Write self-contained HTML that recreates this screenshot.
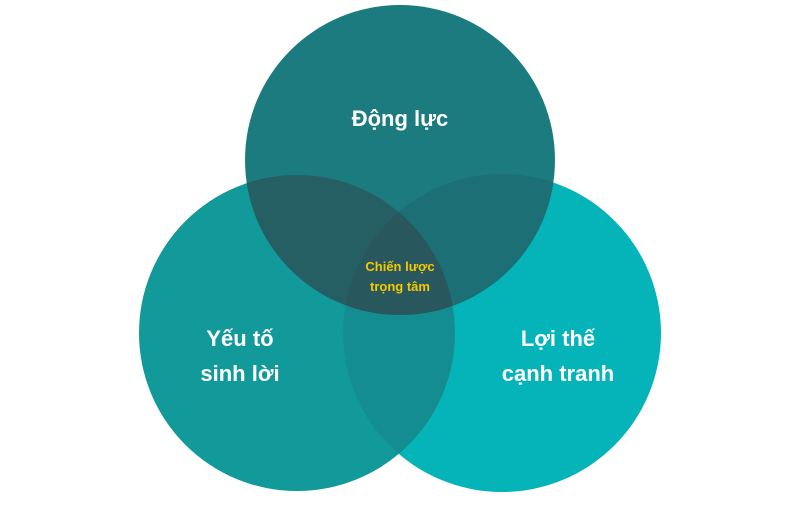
<!DOCTYPE html>
<html><head><meta charset="utf-8"><style>
body{margin:0;background:#fff;width:800px;height:500px;overflow:hidden}
text{font-family:"Liberation Sans","DejaVu Sans",sans-serif;font-weight:bold;text-anchor:middle}
</style></head><body>
<svg width="800" height="500" viewBox="0 0 800 500">
<defs>
<clipPath id="L"><circle cx="297" cy="333" r="158"/></clipPath>
<clipPath id="R"><circle cx="502" cy="333" r="159"/></clipPath>
<clipPath id="T"><circle cx="400" cy="160" r="155"/></clipPath>
</defs>
<circle cx="297" cy="333" r="158" fill="#12999a"/>
<circle cx="502" cy="333" r="159" fill="#05b4b9"/>
<circle cx="502" cy="333" r="159" fill="#148d90" clip-path="url(#L)"/>
<circle cx="400" cy="160" r="155" fill="#1b7b7f"/>
<circle cx="400" cy="160" r="155" fill="#1c6f74" clip-path="url(#R)"/>
<circle cx="400" cy="160" r="155" fill="#255e63" clip-path="url(#L)"/>
<g clip-path="url(#L)"><circle cx="400" cy="160" r="155" fill="#28585d" clip-path="url(#R)"/></g>
<text x="400" y="126" font-size="22" fill="#fff">Động lực</text>
<text x="240" y="346" font-size="22" fill="#fff">Yếu tố</text>
<text x="240" y="381" font-size="22" fill="#fff">sinh lời</text>
<text x="558" y="346" font-size="22" fill="#fff">Lợi thế</text>
<text x="558" y="381" font-size="22" fill="#fff">cạnh tranh</text>
<text x="400" y="271" font-size="13" fill="#f5c800">Chiến lược</text>
<text x="400" y="291" font-size="13" fill="#f5c800">trọng tâm</text>
</svg>
</body></html>
